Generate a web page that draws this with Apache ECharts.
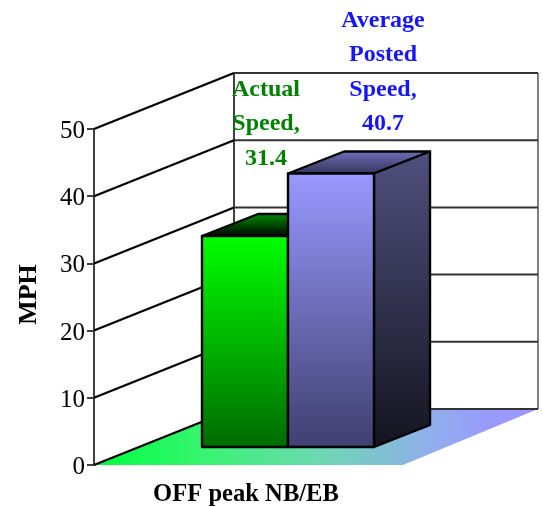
<!DOCTYPE html>
<html><head><meta charset="utf-8">
<style>html,body{margin:0;padding:0;background:#fff}#c{width:543px;height:507px}</style>
<script src="https://cdn.jsdelivr.net/npm/echarts@6/dist/echarts.min.js"></script>
</head><body><div id="c"></div>
<script>
const categories = ['OFF peak NB/EB'];
const actualSpeed = [31.4];
const postedSpeed = [40.7];
const yTicks = [0, 10, 20, 30, 40, 50];

const FONT = '"Liberation Serif","Times New Roman",serif';
const wall = {dx: 140, dy: -56};
const barShift = {dx: 42, dy: -18};
const barDepth = {dx: 56, dy: -22};
const barFrac = 86 / 304;

const lg = (x, y, x2, y2, a, b) => ({type: 'linear', x, y, x2, y2, colorStops: [{offset: 0, color: a}, {offset: 1, color: b}]});
const floorFill = {type: 'linear', x: 0, y: 0, x2: 1, y2: 0, colorStops: [
  {offset: 0, color: '#00ff40'}, {offset: 0.25, color: '#38f470'}, {offset: 0.5, color: '#6bd9b0'},
  {offset: 0.75, color: '#8fb0ea'}, {offset: 0.9, color: '#9999ff'}, {offset: 1, color: '#9999ff'}
]};
const poly = (points, fill, stroke, lineWidth, z2) => ({
  type: 'polygon', z2: z2 || 0, shape: {points},
  style: {fill: fill, stroke: stroke || 'none', lineWidth: lineWidth || 0, lineJoin: 'round'}
});
const seg = (p, q, stroke, w) => ({
  type: 'line', shape: {x1: p[0], y1: p[1], x2: q[0], y2: q[1]},
  style: {stroke, lineWidth: w, fill: 'none'}
});

function renderWallLine(params, api) {
  const v = api.value(0);
  const cs = params.coordSys;
  const y = api.coord([0, v])[1];
  const a = [cs.x, y];
  const b = [cs.x + wall.dx, y + wall.dy];
  const c = [cs.x + cs.width + wall.dx, y + wall.dy];
  const kids = [];
  if (v === 0) {
    const y50 = api.coord([0, yTicks[yTicks.length - 1]])[1];
    kids.push(poly([a, b, c, [cs.x + cs.width + 5, y]], floorFill));
    kids.push(seg(b, [b[0], y50 + wall.dy], '#404040', 2));
    kids.push(seg(c, [c[0], y50 + wall.dy], '#808080', 2));
  }
  kids.push(seg(a, b, '#000000', 2.2));
  kids.push(seg(b, c, '#333333', 2));
  return {type: 'group', children: kids};
}

function barRenderer(side, colors, labelPos) {
  return function (params, api) {
    const v = api.value(1);
    const center = api.coord([0, 0]);
    const top0 = api.coord([0, v]);
    const w = api.size([1, 0])[0] * barFrac;
    const cx = center[0] + barShift.dx;
    const x0 = side < 0 ? cx - w : cx;
    const x1 = x0 + w;
    const yb = center[1] + barShift.dy;
    const yt = top0[1] + barShift.dy;
    const d = barDepth;
    const kids = [
      poly([[x0, yt], [x1, yt], [x1 + d.dx, yt + d.dy], [x0 + d.dx, yt + d.dy]], lg(0, 1, 0, 0, colors.top[0], colors.top[1]), '#000', 2.4),
      poly([[x1, yb], [x1, yt], [x1 + d.dx, yt + d.dy], [x1 + d.dx, yb + d.dy]], lg(0, 0, 0, 1, colors.side[0], colors.side[1]), '#000', 2.4),
      poly([[x0, yb], [x0, yt], [x1, yt], [x1, yb]], lg(0, 0, 0, 1, colors.front[0], colors.front[1]), '#000', 2.4),
      {type: 'text', z2: 10, style: {
        x: x0 + labelPos.x, y: yt + labelPos.y,
        text: colors.label + '\n' + v.toFixed(1),
        fill: colors.text, font: 'bold 24px ' + FONT,
        align: 'center', verticalAlign: 'bottom', lineHeight: 34.5
      }}
    ];
    return {type: 'group', children: kids};
  };
}

const chart = echarts.init(document.getElementById('c'), null, {renderer: 'canvas'});
chart.setOption({
  animation: false,
  backgroundColor: '#fff',
  grid: {left: 94, top: 129, width: 304, height: 336, containLabel: false, outerBoundsMode: 'none'},
  xAxis: {
    type: 'category', data: categories,
    axisLine: {show: false}, axisTick: {show: false}, splitLine: {show: false},
    axisLabel: {color: '#000', fontFamily: FONT, fontWeight: 'bold', fontSize: 24.6, margin: 17}
  },
  yAxis: {
    type: 'value', min: 0, max: 50, interval: 10,
    name: 'MPH', nameLocation: 'middle', nameRotate: 90, nameGap: 52,
    nameTextStyle: {color: '#000', fontFamily: FONT, fontWeight: 'bold', fontSize: 26, padding: [0, 0, 0, 5]},
    axisLine: {show: true, lineStyle: {color: '#404040', width: 2}},
    axisTick: {show: true, length: 7, lineStyle: {color: '#404040', width: 2}},
    splitLine: {show: false},
    axisLabel: {color: '#000', fontFamily: FONT, fontSize: 25, margin: 9, verticalAlign: 'top', lineHeight: 5}
  },
  series: [
    {type: 'custom', clip: false, z: 1, data: yTicks.map(v => [v]), encode: {y: 0},
     renderItem: renderWallLine, silent: true},
    {type: 'custom', clip: false, z: 2, name: 'Actual Speed',
     data: actualSpeed.map((v, i) => [i, v]), encode: {x: 0, y: 1},
     renderItem: barRenderer(-1, {
       front: ['#00ff00', '#006a00'], side: ['#005500', '#001000'], top: ['#000000', '#009000'],
       label: 'Actual\nSpeed,', text: '#008000'
     }, {x: 64, y: -60})},
    {type: 'custom', clip: false, z: 3, name: 'Average Posted Speed',
     data: postedSpeed.map((v, i) => [i, v]), encode: {x: 0, y: 1},
     renderItem: barRenderer(1, {
       front: ['#9999ff', '#3f3f70'], side: ['#50507f', '#14141f'], top: ['#33335a', '#7070bb'],
       label: 'Average\nPosted\nSpeed,', text: '#1515ff'
     }, {x: 95, y: -32})}
  ]
});
</script></body></html>
